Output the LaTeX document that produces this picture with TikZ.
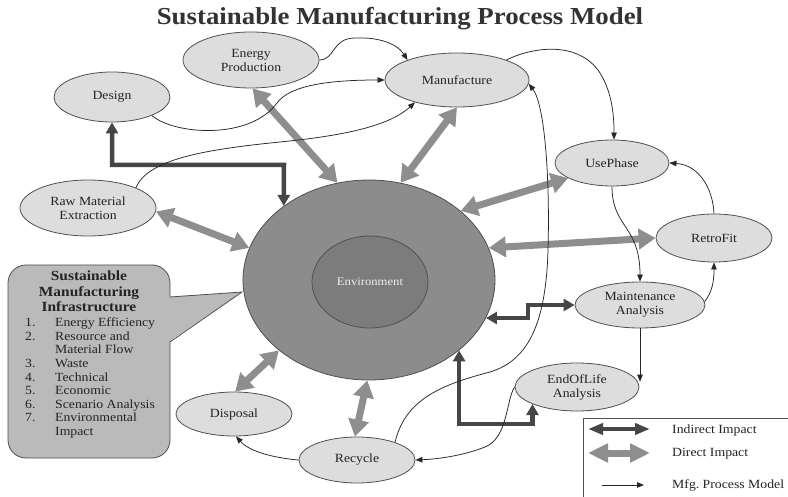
\documentclass[tikz,border=0pt]{standalone}
\usepackage{fontspec}
\setmainfont{Liberation Serif}[FakeStretch=1.1]
\usetikzlibrary{arrows.meta,shapes.geometric}
\definecolor{ellfill}{RGB}{221,221,221}
\definecolor{ellline}{RGB}{80,80,80}
\definecolor{envout}{RGB}{140,140,140}
\definecolor{envin}{RGB}{124,124,124}
\definecolor{dirc}{RGB}{142,142,142}
\definecolor{indc}{RGB}{70,70,70}
\definecolor{boxc}{RGB}{186,186,186}
\definecolor{txt}{RGB}{35,35,35}
\begin{document}
\begin{tikzpicture}[x=1pt,y=-1pt,
  proc/.style={ellipse, draw=ellline, fill=ellfill, line width=0.8pt, inner sep=0pt, align=center, font=\fontsize{12.5}{14}\selectfont, text=txt},
  direct/.style={draw=dirc, line width=7pt, {Triangle[length=17pt,width=20pt]}-{Triangle[length=17pt,width=20pt]}},
  indirect/.style={draw=indc, line width=4.5pt, {Triangle[length=11pt,width=12pt]}-{Triangle[length=11pt,width=12pt]}},
  flow/.style={draw=black!85, line width=0.75pt, -{Triangle[length=7pt,width=5.5pt]}},
  lbl/.style={anchor=base west, inner sep=0pt, font=\fontsize{12.5}{14}\selectfont, text=txt}
]
\useasboundingbox (0,0) rectangle (788,497);
\fill[white] (0,0) rectangle (788,497);

% title
\node[anchor=base, inner sep=0pt, font=\bfseries\fontsize{24.4}{28}\selectfont, text=black!80] (title) at (400,25) {Sustainable Manufacturing Process Model};

% environment
\node[ellipse, draw=ellline, fill=envout, line width=0.8pt, minimum width=252pt, minimum height=200pt, inner sep=0pt] (env) at (369,280) {};
\node[ellipse, draw=ellline, fill=envin, line width=0.8pt, minimum width=116pt, minimum height=92pt, inner sep=0pt, text=white!94!black, font=\fontsize{11.5}{13}\selectfont] (envi) at (370,282) {Environment};

% process nodes
\node[proc, minimum width=136pt, minimum height=56pt] (ep) at (251,60) {Energy\\Production};
\node[proc, minimum width=116pt, minimum height=50pt] (des) at (112,97) {Design};
\node[proc, minimum width=136pt, minimum height=56pt] (rme) at (88,208) {Raw Material\\Extraction};
\node[proc, minimum width=144pt, minimum height=54pt] (man) at (457,80) {Manufacture};
\node[proc, minimum width=114pt, minimum height=46pt] (up) at (612,163) {UsePhase};
\node[proc, minimum width=116pt, minimum height=48pt] (rf) at (714,238) {RetroFit};
\node[proc, minimum width=130pt, minimum height=46pt] (ma) at (640,305) {Maintenance\\Analysis};
\node[proc, minimum width=124pt, minimum height=48pt] (eol) at (577,387) {EndOfLife\\Analysis};
\node[proc, minimum width=116pt, minimum height=46pt] (rec) at (357,460) {Recycle};
\node[proc, minimum width=116pt, minimum height=44pt] (dis) at (234,414) {Disposal};

% direct impacts
\draw[direct] (ep.-87) -- (env.108);
\draw[direct] (man.south) -- (env.72);
\draw[direct] (rme.-3) -- (env.165);
\draw[direct] (up.199) -- (env.37.6);
\draw[direct] (rf.west) -- (env.15);
\draw[direct] (dis.87) -- (env.218);
\draw[direct] (rec.95) -- (env.-91);

% indirect impacts
\coordinate (k1) at (284,165);
\draw[indirect] (des.south) |- (k1) -- (env.139);
\coordinate (k2) at (528,311);
\draw[indirect] (env.-18) -| (k2) |- (ma.west);
\coordinate (k3) at (500,424);
\draw[indirect] (env.-38) |- (k3) -| (eol.-159);

% process flow
\draw[flow] (ep.east) .. controls (335,60) and (332,38) .. (355,38) .. controls (375,37) and (396,42) .. (man.158);
\draw[flow] (des.-25) .. controls (175,135) and (250,140) .. (277,103) .. controls (290,85) and (330,80) .. (man.west);
\draw[flow] (rme.23) .. controls (148,160) and (200,150) .. (280,142) .. controls (340,136) and (388,127) .. (man.-152);
\draw[flow] (man.22) .. controls (530,48) and (575,40) .. (598,70) .. controls (612,90) and (614,115) .. (up.85);
\draw[flow] (up.south) .. controls (612,228) and (640,225) .. (ma.north);
\draw[flow] (ma.3) .. controls (712,292) and (714,282) .. (rf.south);
\draw[flow] (rf.north) .. controls (713,190) and (700,165) .. (up.east);
\draw[flow] (ma.south) -- (ma.south |- eol.5);
\draw[flow] (eol.west) .. controls (506,400) and (508,438) .. (485,447) .. controls (465,455) and (440,459) .. (rec.east);
\draw[flow] (rec.25) .. controls (405,400) and (440,385) .. (490,372) .. controls (530,360) and (546,320) .. (548,250) .. controls (550,180) and (545,105) .. (man.-3);
\draw[flow] (rec.west) .. controls (275,458) and (250,452) .. (dis.-85);

% callout
\node[draw=ellline, fill=boxc, rounded corners=18pt, line width=0.8pt, minimum width=162pt, minimum height=193pt, inner sep=0pt] (box) at (89,361.5) {};
\coordinate (pa) at (170,297);
\coordinate (pt) at (242,292);
\coordinate (pb) at (170,342);
\fill[boxc] ([xshift=-1.5pt]pa) -- (pt) -- ([xshift=-1.5pt]pb) -- cycle;
\draw[ellline, line width=0.8pt] (pa) -- (pt) -- (pb);
\node[font=\bfseries\fontsize{14}{15.5}\selectfont, align=center, anchor=north, inner sep=0pt, text=txt] (head) at (89,271) {Sustainable\\Manufacturing\\Infrastructure};
\node[anchor=north west, inner sep=0pt, font=\fontsize{12.5}{13.6}\selectfont, text=txt] (lst) at (25,317) {\begin{tabular}{@{}p{30pt}@{}l@{}}
1. & Energy Efficiency\\
2. & Resource and\\
   & Material Flow\\
3. & Waste\\
4. & Technical\\
5. & Economic\\
6. & Scenario Analysis\\
7. & Environmental\\
   & Impact
\end{tabular}};

% legend
\node[draw=ellline, line width=0.8pt, anchor=north west, minimum width=230pt, minimum height=110pt, inner sep=0pt] (leg) at (583,418) {};
\coordinate (i1) at (588,429);
\coordinate (i2) at (650,429);
\draw[draw=indc, line width=4.5pt, {Triangle[length=15pt,width=11pt]}-{Triangle[length=15pt,width=11pt]}] (i1) -- (i2);
\coordinate (d1) at (588,453);
\coordinate (d2) at (650,453);
\draw[draw=dirc, line width=7pt, {Triangle[length=20pt,width=18pt]}-{Triangle[length=20pt,width=18pt]}] (d1) -- (d2);
\coordinate (f1) at (602,485);
\coordinate (f2) at (644,485);
\draw[flow] (f1) -- (f2);
\node[lbl] (t1) at (672,433) {Indirect Impact};
\node[lbl] (t2) at (672,456) {Direct Impact};
\node[lbl] (t3) at (672,488) {Mfg.\ Process Model};
\end{tikzpicture}
\end{document}
